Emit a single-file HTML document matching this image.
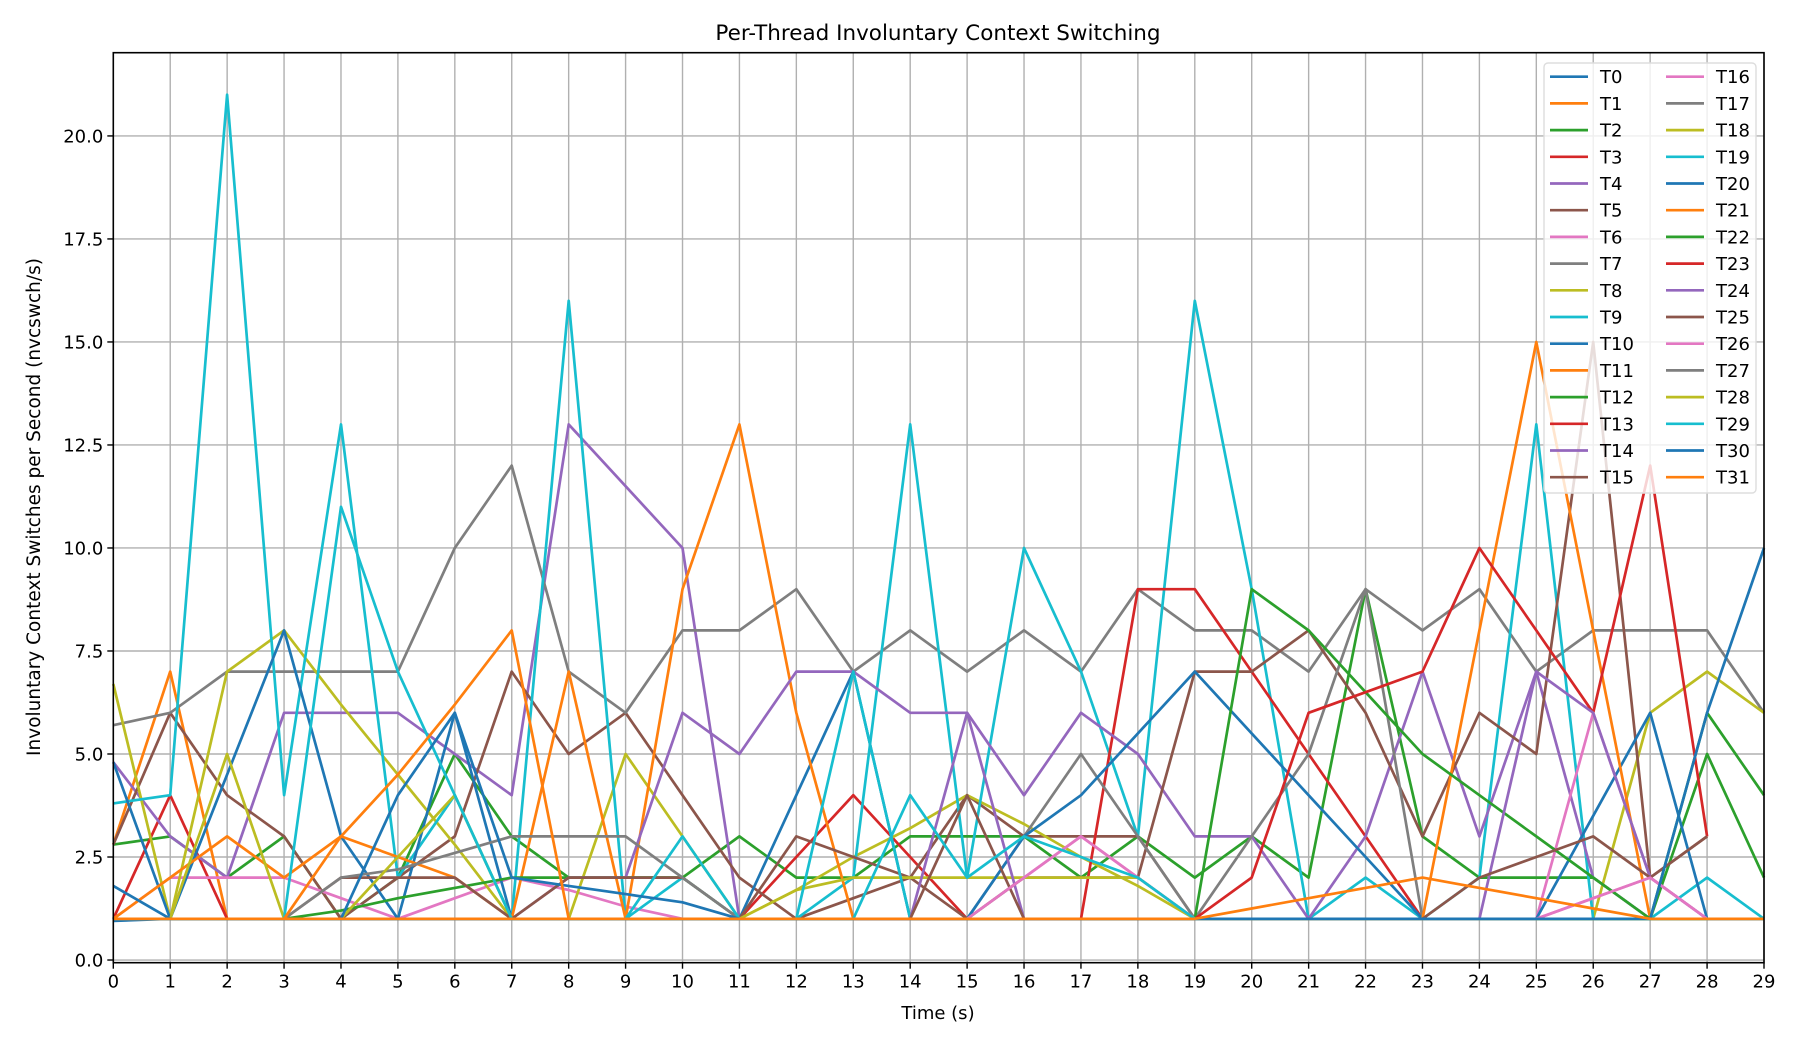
<!DOCTYPE html>
<html><head><meta charset="utf-8"><style>
html,body{margin:0;padding:0;background:#fff;}
svg{display:block;font-family:"DejaVu Sans","Liberation Sans",sans-serif;}
</style></head><body>
<svg id="chart" width="1800" height="1050" viewBox="0 0 1800 1050" xmlns="http://www.w3.org/2000/svg">
<rect width="1800" height="1050" fill="#fff"/>
<text x="938" y="40" font-size="21.5" text-anchor="middle">Per-Thread Involuntary Context Switching</text>
<text x="938" y="1019" font-size="18" text-anchor="middle">Time (s)</text>
<text transform="translate(40,507) rotate(-90)" font-size="18.5" text-anchor="middle">Involuntary Context Switches per Second (nvcswch/s)</text>
<g id="grid"></g><g id="series"></g><g id="axes"></g><g id="legend"></g>
</svg>
<script>
const times = [0,1,2,3,4,5,6,7,8,9,10,11,12,13,14,15,16,17,18,19,20,21,22,23,24,25,26,27,28,29];
const xTicks = [0,1,2,3,4,5,6,7,8,9,10,11,12,13,14,15,16,17,18,19,20,21,22,23,24,25,26,27,28,29];
const yTicks = [0,2.5,5,7.5,10,12.5,15,17.5,20];
const yTickLabels = ["0.0","2.5","5.0","7.5","10.0","12.5","15.0","17.5","20.0"];
const threadNames = ["T0","T1","T2","T3","T4","T5","T6","T7","T8","T9","T10","T11","T12","T13","T14","T15","T16","T17","T18","T19","T20","T21","T22","T23","T24","T25","T26","T27","T28","T29","T30","T31"];
const T0 = [0.95,1,1,1,1,1,1,1,1,1,1,1,1,1,1,1,1,1,1,1,1,1,1,1,1,1,1,1,1,1];
const T1 = [2.8,7,1,1,1,1,1,1,1,1,1,1,1,1,1,1,1,1,1,1,1,1,1,1,1,1,1,1,1,1];
const T2 = [2.8,3,2,3,1,2,5,3,2,2,2,3,2,2,3,3,3,2,3,2,3,2,9,3,2,2,2,1,5,2];
const T3 = [1,4,1,1,1,1,1,1,1,1,1,1,2.5,4,2.5,1,1,1,1,1,1,1,1,1,1,1,1,1,1,1];
const T4 = [4.8,3,2,6,6,6,5,4,13,11.5,10,1,1,1,1,1,1,1,1,1,1,1,1,1,1,1,1,1,1,1];
const T5 = [2.8,6,4,3,1,2,3,7,5,6,4,2,1,1.5,2,4,3,3,3,1,1,1,1,1,1,1,1,1,1,1];
const T6 = [1,2,2,2,1.5,1,1.5,2,1.7,1.3,1,1,1,1,1,1,2,3,2,1,1,1,1,1,1,1,1.5,2,1,1];
const T7 = [5.7,6,7,7,7,7,10,12,7,6,8,8,9,7,8,7,8,7,9,8,8,7,9,8,9,7,8,8,8,6];
const T8 = [6.7,1,7,8,6.2,4.5,2.8,1,1,5,3,1,1.7,2.5,3.2,4,3.3,2.5,1.8,1,1,1,1,1,1,1,1,6,7,6];
const T9 = [3.8,4,21,4,13,2,4,1,16,1,2,1,1,2,13,2,10,7,3,16,9,1,2,1,2,13,1,1,2,1];
const T10 = [4.8,1,4.5,8,3,1,6,1,1,1,1,1,4,7,1,1,1,1,1,1,1,1,1,1,1,1,1,1,1,1];
const T11 = [1,2,3,2,3,2.5,2,1,7,1,9,13,6,1,1,1,1,1,1,1,1,1,1,1,1,1,1,1,1,1];
const T12 = [1,1,1,1,1.2,1.5,1.75,2,2,2,2,1,1,1,1,1,1,1,1,1,1,1,1,1,1,1,1,1,1,1];
const T13 = [1,1,1,1,1,1,1,1,1,1,1,1,1,1,1,1,1,1,9,9,7,5,3,1,1,1,1,1,1,1];
const T14 = [1,1,1,1,1,1,1,1,2,2,6,5,7,7,6,6,4,6,5,3,3,1,3,7,3,7,2,1,1,1];
const T15 = [1,1,1,1,2,2,2,1,2,2,2,1,3,2.5,2,1,2,2,2,7,7,8,6,3,6,5,15,2,3,null];
const T16 = [1,1,1,1,1,1,1,1,1,1,1,1,1,1,1,1,1,1,1,1,1,1,1,1,1,1,6,2,1,1];
const T17 = [1,1,1,1,2,2.2,2.6,3,3,3,2,1,1,1,1,1,3,5,3,1,3,5,9,1,1,1,1,1,1,1];
const T18 = [1,1,5,1,1,2.5,4,1,1,1,1,1,1.7,2,2,2,2,2,2,1,1,1,1,1,1,1,1,1,1,1];
const T19 = [1,1,1,1,11,7,4,1,1,1,3,1,1,7,1,1,1,1,1,1,1,1,1,1,1,1,1,1,1,1];
const T20 = [1.8,1,1,1,1,4,6,2,1.8,1.6,1.4,1,1,1,1,1,3,4,5.5,7,5.5,4,2.5,1,1,1,3.5,6,1,1];
const T21 = [1,1,1,1,3,4.5,6.2,8,1,1,1,1,1,1,1,1,1,1,1,1,1,1,1,1,8,15,8,1,1,1];
const T22 = [1,1,1,1,1,1,1,1,1,1,1,1,1,1,1,1,1,1,1,1,9,8,6.5,5,4,3,2,1,6,4];
const T23 = [1,1,1,1,1,1,1,1,1,1,1,1,1,1,1,1,1,1,1,1,2,6,6.5,7,10,8,6,12,3,null];
const T24 = [1,1,1,1,1,1,1,1,1,1,1,1,1,1,1,6,1,1,1,1,1,1,1,1,1,7,6,2,1,1];
const T25 = [1,1,1,1,1,1,1,1,1,1,1,1,1,1,1,4,1,1,1,1,1,1,1,1,2,2.5,3,2,3,null];
const T26 = [1,1,1,1,1,1,1,1,1,1,1,1,1,1,1,1,2,3,2,1,1,1,1,1,1,1,1.5,2,1,1];
const T27 = [1,1,1,1,1,1,1,1,1,1,1,1,1,1,1,1,1,1,1,1,1,1,1,1,1,1,1,1,1,1];
const T28 = [1,1,1,1,1,1,1,1,1,1,1,1,1,1,1,1,1,1,1,1,1,1,1,1,1,1,1,1,1,1];
const T29 = [1,1,1,1,1,1,1,1,1,1,1,1,1,1,4,2,3,2.5,2,1,1,1,1,1,1,1,1,1,1,1];
const T30 = [1,1,1,1,1,1,1,1,1,1,1,1,1,1,1,1,1,1,1,1,1,1,1,1,1,1,1,1,6,10];
const T31 = [1,1,1,1,1,1,1,1,1,1,1,1,1,1,1,1,1,1,1,1,1.25,1.5,1.75,2,1.75,1.5,1.25,1,1,1];
const seriesValues = [T0,T1,T2,T3,T4,T5,T6,T7,T8,T9,T10,T11,T12,T13,T14,T15,T16,T17,T18,T19,T20,T21,T22,T23,T24,T25,T26,T27,T28,T29,T30,T31];

const palette = ["#1f77b4","#ff7f0e","#2ca02c","#d62728","#9467bd","#8c564b","#e377c2","#7f7f7f","#bcbd22","#17becf"];
const L=113.3,R=1764,T=52.7,B=962.7;
const XMIN=0,XMAX=29,YMIN=-0.065,YMAX=22.02;
const xs=v=>L+(v-XMIN)/(XMAX-XMIN)*(R-L);
const ys=v=>B-(v-YMIN)/(YMAX-YMIN)*(B-T);
const NS="http://www.w3.org/2000/svg";
function mk(tag,attrs,parent){const e=document.createElementNS(NS,tag);for(const k in attrs)e.setAttribute(k,attrs[k]);parent.appendChild(e);return e;}
const grid=document.getElementById('grid'),series=document.getElementById('series'),axes=document.getElementById('axes'),legend=document.getElementById('legend');

xTicks.forEach(t=>{
  const g=mk('line',{x1:xs(t),x2:xs(t),y1:T,y2:B,stroke:'#b0b0b0','stroke-width':1.4},grid);
  
  
  const tk=mk('line',{x1:xs(t),x2:xs(t),y1:B,y2:B+6,stroke:'#000','stroke-width':1.4},axes);
  
  
  const lb=mk('text',{x:xs(t),y:B+25,'font-size':18,'text-anchor':'middle'},axes);
  lb.textContent=String(t);
  
  
});
yTicks.forEach((v,i)=>{
  const g=mk('line',{x1:L,x2:R,y1:ys(v),y2:ys(v),stroke:'#b0b0b0','stroke-width':1.4},grid);
  
  
  const tk=mk('line',{x1:L-6,x2:L,y1:ys(v),y2:ys(v),stroke:'#000','stroke-width':1.4},axes);
  
  
  const lb=mk('text',{x:L-10,y:ys(v)+6.5,'font-size':18,'text-anchor':'end'},axes);
  lb.textContent=yTickLabels[i];
  
  
});
const frame=mk('rect',{x:L,y:T,width:R-L,height:B-T,fill:'none',stroke:'#000','stroke-width':1.6},axes);



seriesValues.forEach((vals,si)=>{
  let d='',pen=false;
  vals.forEach((v,i)=>{
    if(v===null||v===undefined){pen=false;return;}
    d+=(pen?'L':'M')+xs(times[i]).toFixed(1)+','+ys(v).toFixed(1);pen=true;
  });
  const p=mk('path',{d:d,fill:'none',stroke:palette[si%10],'stroke-width':2.7,'stroke-linejoin':'round'},series);
  
  
});

const lbox=mk('rect',{x:1544,y:63,width:212,height:430,rx:4,fill:'#fff','fill-opacity':0.8,stroke:'#ddd','stroke-width':1.4},legend);


threadNames.forEach((n,i)=>{
  const col=Math.floor(i/16),row=i%16;
  const x0=col?1666:1550,y=76.7+row*26.7;
  const g=mk('g',{},legend);
  
  
  mk('line',{x1:x0,x2:x0+38,y1:y,y2:y,stroke:palette[i%10],'stroke-width':2.7},g);
  const t=mk('text',{x:x0+50,y:y+6.5,'font-size':18},g);
  t.textContent=n;
});
</script>
</body></html>
